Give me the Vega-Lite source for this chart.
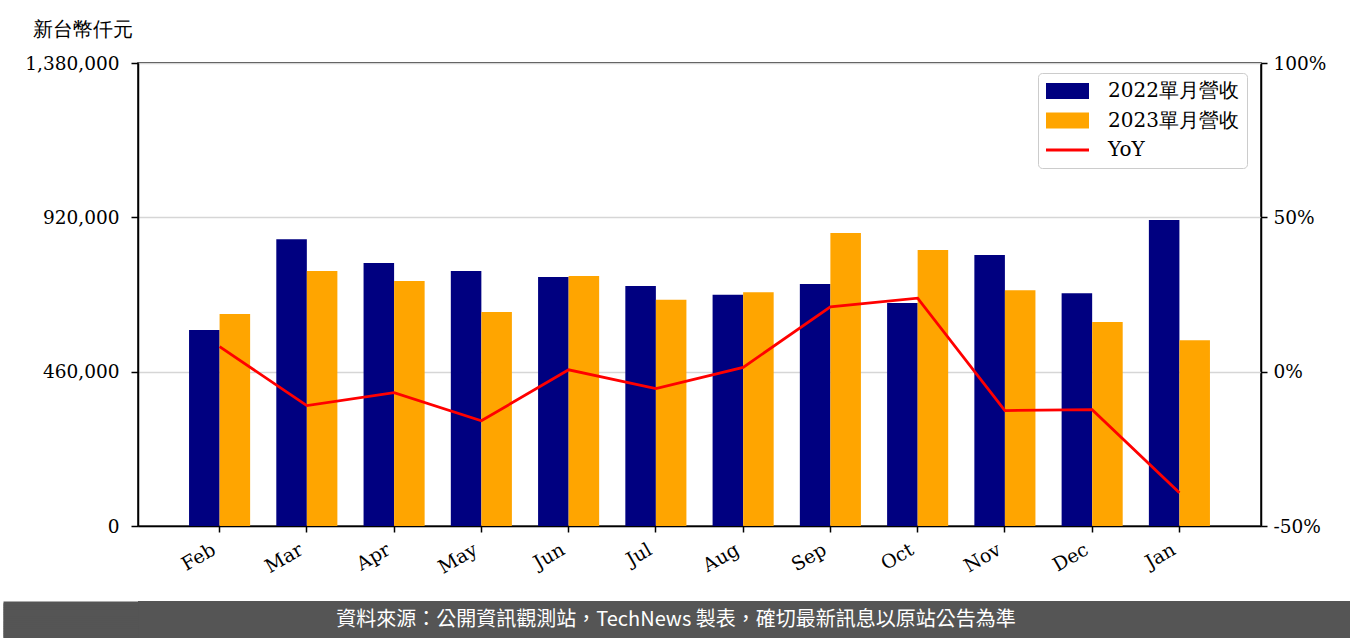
{
  "$schema": "https://vega.github.io/schema/vega-lite/v6.json",
  "padding": {"top": 18, "left": 0, "right": 0, "bottom": 0},
  "background": "white",
  "spacing": 0,
  "config": {
    "font": "DejaVu Serif",
    "view": {"stroke": "#000000", "strokeWidth": 1.5},
    "axis": {"labelColor": "#000000", "tickColor": "#000000", "domainColor": "#000000", "domainWidth": 1.5, "tickWidth": 1.5}
  },
  "datasets": {
    "bars": [
      {"month": "Feb", "series": "2022單月營收", "value": 584000},
      {"month": "Feb", "series": "2023單月營收", "value": 632000},
      {"month": "Mar", "series": "2022單月營收", "value": 855000},
      {"month": "Mar", "series": "2023單月營收", "value": 760000},
      {"month": "Apr", "series": "2022單月營收", "value": 784000},
      {"month": "Apr", "series": "2023單月營收", "value": 730000},
      {"month": "May", "series": "2022單月營收", "value": 760000},
      {"month": "May", "series": "2023單月營收", "value": 638000},
      {"month": "Jun", "series": "2022單月營收", "value": 742000},
      {"month": "Jun", "series": "2023單月營收", "value": 745000},
      {"month": "Jul", "series": "2022單月營收", "value": 715000},
      {"month": "Jul", "series": "2023單月營收", "value": 674000},
      {"month": "Aug", "series": "2022單月營收", "value": 689000},
      {"month": "Aug", "series": "2023單月營收", "value": 697000},
      {"month": "Sep", "series": "2022單月營收", "value": 721000},
      {"month": "Sep", "series": "2023單月營收", "value": 873000},
      {"month": "Oct", "series": "2022單月營收", "value": 665000},
      {"month": "Oct", "series": "2023單月營收", "value": 823000},
      {"month": "Nov", "series": "2022單月營收", "value": 808000},
      {"month": "Nov", "series": "2023單月營收", "value": 703000},
      {"month": "Dec", "series": "2022單月營收", "value": 694000},
      {"month": "Dec", "series": "2023單月營收", "value": 608000},
      {"month": "Jan", "series": "2022單月營收", "value": 912000},
      {"month": "Jan", "series": "2023單月營收", "value": 554000}
    ],
    "yoy": [
      {"month": "Feb", "yoy": 8.1},
      {"month": "Mar", "yoy": -11.0},
      {"month": "Apr", "yoy": -6.8},
      {"month": "May", "yoy": -15.9},
      {"month": "Jun", "yoy": 0.6},
      {"month": "Jul", "yoy": -5.5},
      {"month": "Aug", "yoy": 1.4},
      {"month": "Sep", "yoy": 21.0},
      {"month": "Oct", "yoy": 23.8},
      {"month": "Nov", "yoy": -12.6},
      {"month": "Dec", "yoy": -12.3},
      {"month": "Jan", "yoy": -39.2}
    ],
    "footer": [
      {"t": "資料來源：公開資訊觀測站，TechNews 製表，確切最新訊息以原站公告為準"}
    ]
  },
  "vconcat": [
    {
      "width": 1123,
      "height": 463,
      "layer": [
        {
          "data": {"name": "bars"},
          "mark": {"type": "bar"},
          "encoding": {
            "x": {
              "field": "month",
              "type": "nominal",
              "sort": ["Feb", "Mar", "Apr", "May", "Jun", "Jul", "Aug", "Sep", "Oct", "Nov", "Dec", "Jan"],
              "scale": {"paddingInner": 0.3, "paddingOuter": 0.585},
              "axis": {
                "title": null,
                "labelAngle": -30,
                "labelAlign": "right",
                "labelBaseline": "top",
                "labelFontSize": 19,
                "labelPadding": 8,
                "labelOffset": -10,
                "tickSize": 6,
                "minExtent": 73,
                "maxExtent": 73,
                "titlePadding": 0,
                "domain": true
              }
            },
            "xOffset": {"field": "series", "type": "nominal", "sort": ["2022單月營收", "2023單月營收"]},
            "y": {
              "field": "value",
              "type": "quantitative",
              "scale": {"domain": [0, 1380000], "nice": false, "zero": true},
              "axis": {
                "values": [0, 460000, 920000, 1380000],
                "format": ",d",
                "labelFontSize": 18.5,
                "labelPadding": 12,
                "tickSize": 7,
                "grid": true,
                "gridColor": "#d6d6d6",
                "gridWidth": 1.5,
                "minExtent": 137,
                "titlePadding": 0,
                "title": "新台幣仟元",
                "titleAngle": 0,
                "titleAlign": "left",
                "titleBaseline": "top",
                "titleX": -106,
                "titleY": -44,
                "titleFontSize": 20,
                "titleFontWeight": "normal",
                "titleColor": "#000000"
              }
            },
            "color": {
              "field": "series",
              "type": "nominal",
              "scale": {
                "domain": ["2022單月營收", "2023單月營收", "YoY"],
                "range": ["#000080", "#ffa500", "#ff0000"]
              },
              "legend": {
                "title": null,
                "orient": "none",
                "legendX": 900,
                "legendY": 10,
                "padding": 8,
                "fillColor": "#ffffff",
                "strokeColor": "#cccccc",
                "cornerRadius": 4,
                "labelFontSize": 20,
                "labelColor": "#000000",
                "labelOffset": 42,
                "rowPadding": 9.5,
                "symbolSize": 400,
                "symbolType": "square",
                "labelLimit": 300,
                "encode": {
                  "symbols": {
                    "update": {
                      "shape": {"signal": "datum.value === 'YoY' ? 'M-1,0H3.3' : 'M-1,-0.8H3.3V0.8H-1Z'"},
                      "fill": {"signal": "datum.value === 'YoY' ? 'transparent' : (datum.value === '2022單月營收' ? '#000080' : '#ffa500')"},
                      "stroke": {"signal": "datum.value === 'YoY' ? '#ff0000' : 'transparent'"},
                      "strokeWidth": {"signal": "datum.value === 'YoY' ? 3 : 0"},
                      "opacity": {"value": 1}
                    }
                  }
                }
              }
            }
          }
        },
        {
          "data": {"name": "yoy"},
          "mark": {"type": "line", "color": "#ff0000", "strokeWidth": 2.8},
          "encoding": {
            "x": {
              "field": "month",
              "type": "nominal",
              "sort": ["Feb", "Mar", "Apr", "May", "Jun", "Jul", "Aug", "Sep", "Oct", "Nov", "Dec", "Jan"]
            },
            "y": {
              "field": "yoy",
              "type": "quantitative",
              "scale": {"domain": [-50, 100], "nice": false, "zero": false},
              "axis": {
                "orient": "right",
                "values": [-50, 0, 50, 100],
                "labelExpr": "datum.value + '%'",
                "labelFontSize": 18.5,
                "labelPadding": 6,
                "tickSize": 6,
                "grid": false,
                "title": null
              }
            }
          }
        }
      ],
      "resolve": {"scale": {"y": "independent"}, "axis": {"y": "independent"}}
    },
    {
      "width": 1213,
      "height": 38,
      "view": {"fill": "#555555", "stroke": null},
      "data": {"name": "footer"},
      "mark": {"type": "text", "color": "#ffffff", "font": "Noto Sans CJK TC", "fontSize": 20, "baseline": "middle", "align": "center", "dx": -68.5},
      "encoding": {
        "text": {"field": "t", "type": "nominal"},
        "y": {
          "datum": 0.5,
          "type": "quantitative",
          "scale": {"domain": [0, 1], "nice": false},
          "axis": {
            "values": [0.05, 0.1, 0.15, 0.2, 0.25, 0.3, 0.35, 0.4, 0.45, 0.5, 0.55, 0.6, 0.65, 0.7, 0.75, 0.8, 0.85, 0.9, 0.95],
            "labels": false,
            "domain": false,
            "grid": false,
            "title": null,
            "tickSize": 135,
            "tickWidth": 4,
            "tickColor": "#555555",
            "tickOpacity": 1,
            "tickRound": false,
            "tickCap": "butt",
            "minExtent": 137,
            "maxExtent": 137,
            "titlePadding": 0
          }
        }
      }
    }
  ]
}
